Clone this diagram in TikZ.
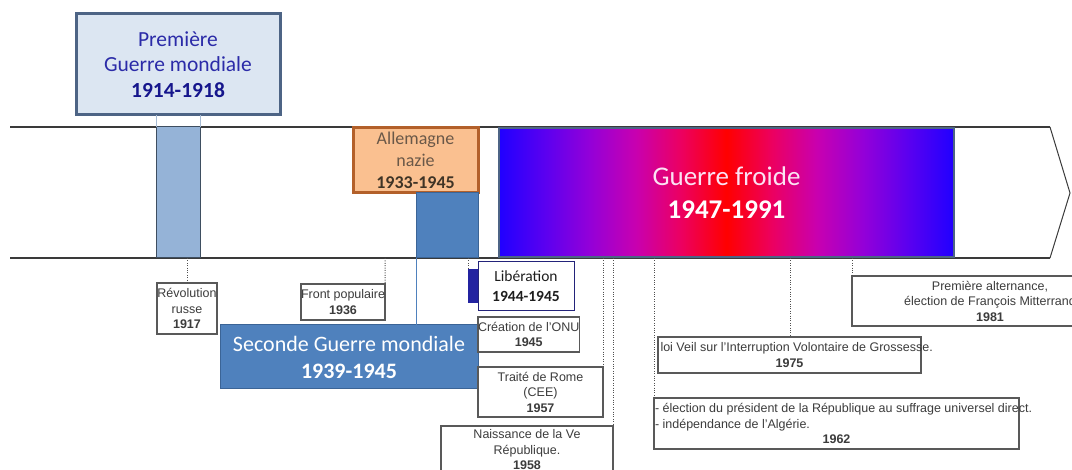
\documentclass[tikz,border=0pt]{standalone}
\usepackage{fontspec}
\setmainfont{Liberation Sans}
\newfontfamily\calfont{Carlito}
\definecolor{bandline}{HTML}{3A3A3A}
\definecolor{wwafill}{HTML}{DCE6F2}
\definecolor{wwaborder}{HTML}{4D6485}
\definecolor{wwatext}{HTML}{2B2BA8}
\definecolor{wwabold}{HTML}{16168C}
\definecolor{wwabar}{HTML}{95B3D7}
\definecolor{wwabardraw}{HTML}{3E4E60}
\definecolor{wwalink}{HTML}{A8BCD4}
\definecolor{nazifill}{HTML}{FAC090}
\definecolor{naziborder}{HTML}{B3602A}
\definecolor{nazitext}{HTML}{6A5848}
\definecolor{nazibold}{HTML}{3F3426}
\definecolor{wwbfill}{HTML}{4F81BD}
\definecolor{wwbdraw}{HTML}{3B6496}
\definecolor{cwa}{HTML}{2000FF}
\definecolor{cwb}{HTML}{5A00F0}
\definecolor{cwc}{HTML}{9400D8}
\definecolor{cwd}{HTML}{C800B0}
\definecolor{cwe}{HTML}{EC0060}
\definecolor{cwf}{HTML}{FF0000}
\definecolor{cwtext}{HTML}{FBE2F3}
\definecolor{libborder}{HTML}{23237A}
\definecolor{libbar}{HTML}{2323A0}
\definecolor{libtext}{HTML}{1E1E1E}
\definecolor{smallborder}{HTML}{595959}
\definecolor{smalltext}{HTML}{3C3C3C}
\definecolor{dotcol}{HTML}{505050}
\pgfdeclarehorizontalshading{coldwar}{100bp}{color(0bp)=(cwa); color(25bp)=(cwa);
  color(30bp)=(cwb); color(35bp)=(cwc); color(40bp)=(cwd); color(45bp)=(cwe);
  color(50bp)=(cwf); color(55bp)=(cwe); color(60bp)=(cwd); color(65bp)=(cwc);
  color(70bp)=(cwb); color(75bp)=(cwa); color(100bp)=(cwa)}
\begin{document}
\begin{tikzpicture}[x=1pt,y=-1pt,
  box/.style={anchor=north west, inner sep=0pt, outer sep=0pt, align=center},
  smallbox/.style={box, draw=smallborder, line width=1.2pt, fill=white, text=smalltext,
    font=\fontsize{12.5}{15.5}\selectfont},
  dotlink/.style={draw=dotcol, line width=1pt, dash pattern=on 1pt off 1.4pt},
  thinlink/.style={draw=wwalink, line width=1pt}
]
\useasboundingbox (0,0) rectangle (1072,470);
% timeline band
\draw[bandline, line width=2pt] (10,127) -- (1050,127);
\draw[bandline, line width=2pt] (10,258) -- (1050,258);
\draw[bandline, line width=1pt] (1050,127) -- (1070,193) -- (1050,258);
% anchor points on the band
\coordinate (b1917) at (187,258);
\coordinate (b1936) at (385,258);
\coordinate (b1944) at (468,258);
\coordinate (b1957) at (603,258);
\coordinate (b1958) at (613,258);
\coordinate (b1962) at (654,258);
\coordinate (b1975) at (790,258);
\coordinate (b1981) at (852,258);
% WWI
\node[box, draw=wwaborder, line width=3pt, fill=wwafill, text=wwatext,
  minimum width=204pt, minimum height=101pt, font=\calfont\fontsize{21.5}{25.5}\selectfont]
  (wwa) at (76,14) {Première\\Guerre mondiale\\{\color{wwabold}\bfseries 1914-1918}};
\node[box, draw=wwabardraw, line width=1pt, fill=wwabar, minimum width=44pt, minimum height=131pt]
  (wwabar) at (156,127) {};
\draw[thinlink] (wwabar.north west) -- (wwabar.north west |- wwa.south);
\draw[thinlink] (wwabar.north east) -- (wwabar.north east |- wwa.south);
% Nazi Germany
\node[box, draw=naziborder, line width=3pt, fill=nazifill, text=nazitext,
  minimum width=125pt, minimum height=65pt, font=\calfont\fontsize{18}{22}\selectfont]
  (nazi) at (353,128) {Allemagne\\nazie\\{\color{nazibold}\bfseries 1933-1945}};
\node[box, draw=wwbdraw, line width=1pt, fill=wwbfill, minimum width=62pt, minimum height=65pt]
  (wwbbar) at (416,193) {};
% Cold war
\node[box, draw=wwaborder, line width=2pt, shading=coldwar,
  text=cwtext, minimum width=455pt, minimum height=129pt, font=\calfont\fontsize{27}{33}\selectfont]
  (cold) at (499,128) {Guerre froide\\{\color{white!92!cwtext}\bfseries 1947-1991}};
% WWII
\node[box, draw=wwbdraw, line width=1pt, fill=wwbfill, text=white,
  minimum width=258pt, minimum height=64pt, font=\calfont\fontsize{22}{27}\selectfont]
  (wwb) at (220,325) {Seconde Guerre mondiale\\\bfseries 1939-1945};
\draw[thinlink, draw=wwbfill] (wwbbar.south west) -- (wwbbar.south west |- wwb.north);
% Libération
\node[box, fill=libbar, minimum width=10pt, minimum height=34pt] (libbar) at (468,269) {};
\node[box, draw=libborder, line width=1pt, fill=white, text=libtext,
  minimum width=96pt, minimum height=49pt, font=\calfont\fontsize{15.5}{20}\selectfont]
  (lib) at (478,262) {Libération\\\bfseries 1944-1945};
\draw[dotlink] (b1944) -- (libbar.north west);
% small event boxes
\node[smallbox, minimum width=60pt, minimum height=51pt] (rev) at (157,283)
  {Révolution\\russe\\\bfseries 1917};
\node[smallbox, minimum width=84pt, minimum height=36pt] (fp) at (301,284)
  {Front populaire\\\bfseries 1936};
\node[smallbox, minimum width=100pt, minimum height=35pt] (onu) at (478,317)
  {Création de l'ONU\\\bfseries 1945};
\node[smallbox, minimum width=125pt, minimum height=50pt] (rome) at (478,367)
  {Traité de Rome\\(CEE)\\\bfseries 1957};
\node[smallbox, minimum width=172pt, minimum height=48pt] (ve) at (441,426)
  {Naissance de la Ve\\République.\\\bfseries 1958};
\node[smallbox, minimum width=263pt, minimum height=36pt] (veil) at (658,337)
  {\makebox[263pt][l]{\hspace{2.5pt}loi Veil sur l'Interruption Volontaire de Grossesse.}\\\bfseries 1975};
\node[smallbox, minimum width=365pt, minimum height=51pt] (alg) at (654,398)
  {\makebox[365pt][l]{\hspace{1pt}- élection du président de la République au suffrage universel direct.}\\
   \makebox[365pt][l]{\hspace{1pt}- indépendance de l'Algérie.}\\\bfseries 1962};
\node[smallbox, minimum width=276pt, minimum height=50pt] (mit) at (852,276)
  {Première alternance,\\élection de François Mitterrand\\\bfseries 1981};
% dotted connectors
\draw[dotlink] (b1917) -- (rev.north);
\draw[dotlink] (b1936) -- (fp.north east);
\draw[dotlink] (b1957) -- (rome.north east);
\draw[dotlink] (b1958) -- (ve.north east);
\draw[dotlink] (b1962) -- (alg.north west);
\draw[dotlink] (b1975) -- (veil.north -| b1975);
\draw[dotlink] (b1981) -- (mit.north west);
\end{tikzpicture}
\end{document}
